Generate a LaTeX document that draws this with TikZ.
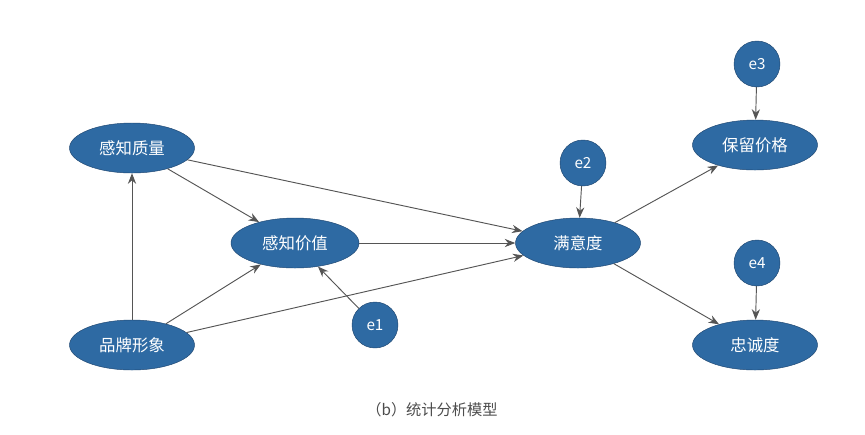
\documentclass[tikz,border=0pt]{standalone}
\usepackage{fontspec}
\setmainfont{Noto Sans CJK SC}
\usetikzlibrary{arrows.meta,shapes.geometric}
\definecolor{nfill}{HTML}{2E6AA3}
\definecolor{nline}{HTML}{1E4670}
\definecolor{eline}{HTML}{555555}
\tikzset{
 ell/.style={ellipse,draw=nline,fill=nfill,text=white,minimum width=125*0.03cm,minimum height=50*0.03cm,font=\fontsize{14}{16}\selectfont,inner sep=0pt},
 err/.style={circle,draw=nline,fill=nfill,text=white,minimum size=46*0.03cm,font=\fontsize{13}{15}\selectfont,inner sep=0pt},
 con/.style={draw=eline,line width=0.8pt,-{Stealth[length=9pt,width=7pt]}}
}
\begin{document}
\begin{tikzpicture}[x=0.03cm,y=-0.03cm]
\useasboundingbox (0,0) rectangle (865,434);
\node[ell] (zl) at (132,148) {感知质量};
\node[ell,minimum width=128*0.03cm] (jz) at (295,243) {感知价值};
\node[ell] (pp) at (132,345) {品牌形象};
\node[ell] (my) at (578,243) {满意度};
\node[ell] (bl) at (755,145) {保留价格};
\node[ell] (zc) at (755,345) {忠诚度};
\node[err] (e1) at (375,325) {e1};
\node[err] (e2) at (583,163) {e2};
\node[err] (e3) at (757,64) {e3};
\node[err] (e4) at (757,263) {e4};
\node[text=black!70,font=\fontsize{13}{15}\selectfont] (cap) at (432,410) {（b）统计分析模型};
\draw[con] (pp) -- (zl);
\draw[con] (zl) -- (jz);
\draw[con] (pp) -- (jz);
\draw[con] (zl) -- (my);
\draw[con] (jz) -- (my);
\draw[con] (pp) -- (my);
\draw[con] (e1) -- (jz);
\draw[con] (e2) -- (my);
\draw[con] (my) -- (bl);
\draw[con] (my) -- (zc);
\draw[con] (e3) -- (bl);
\draw[con] (e4) -- (zc);
\end{tikzpicture}
\end{document}
